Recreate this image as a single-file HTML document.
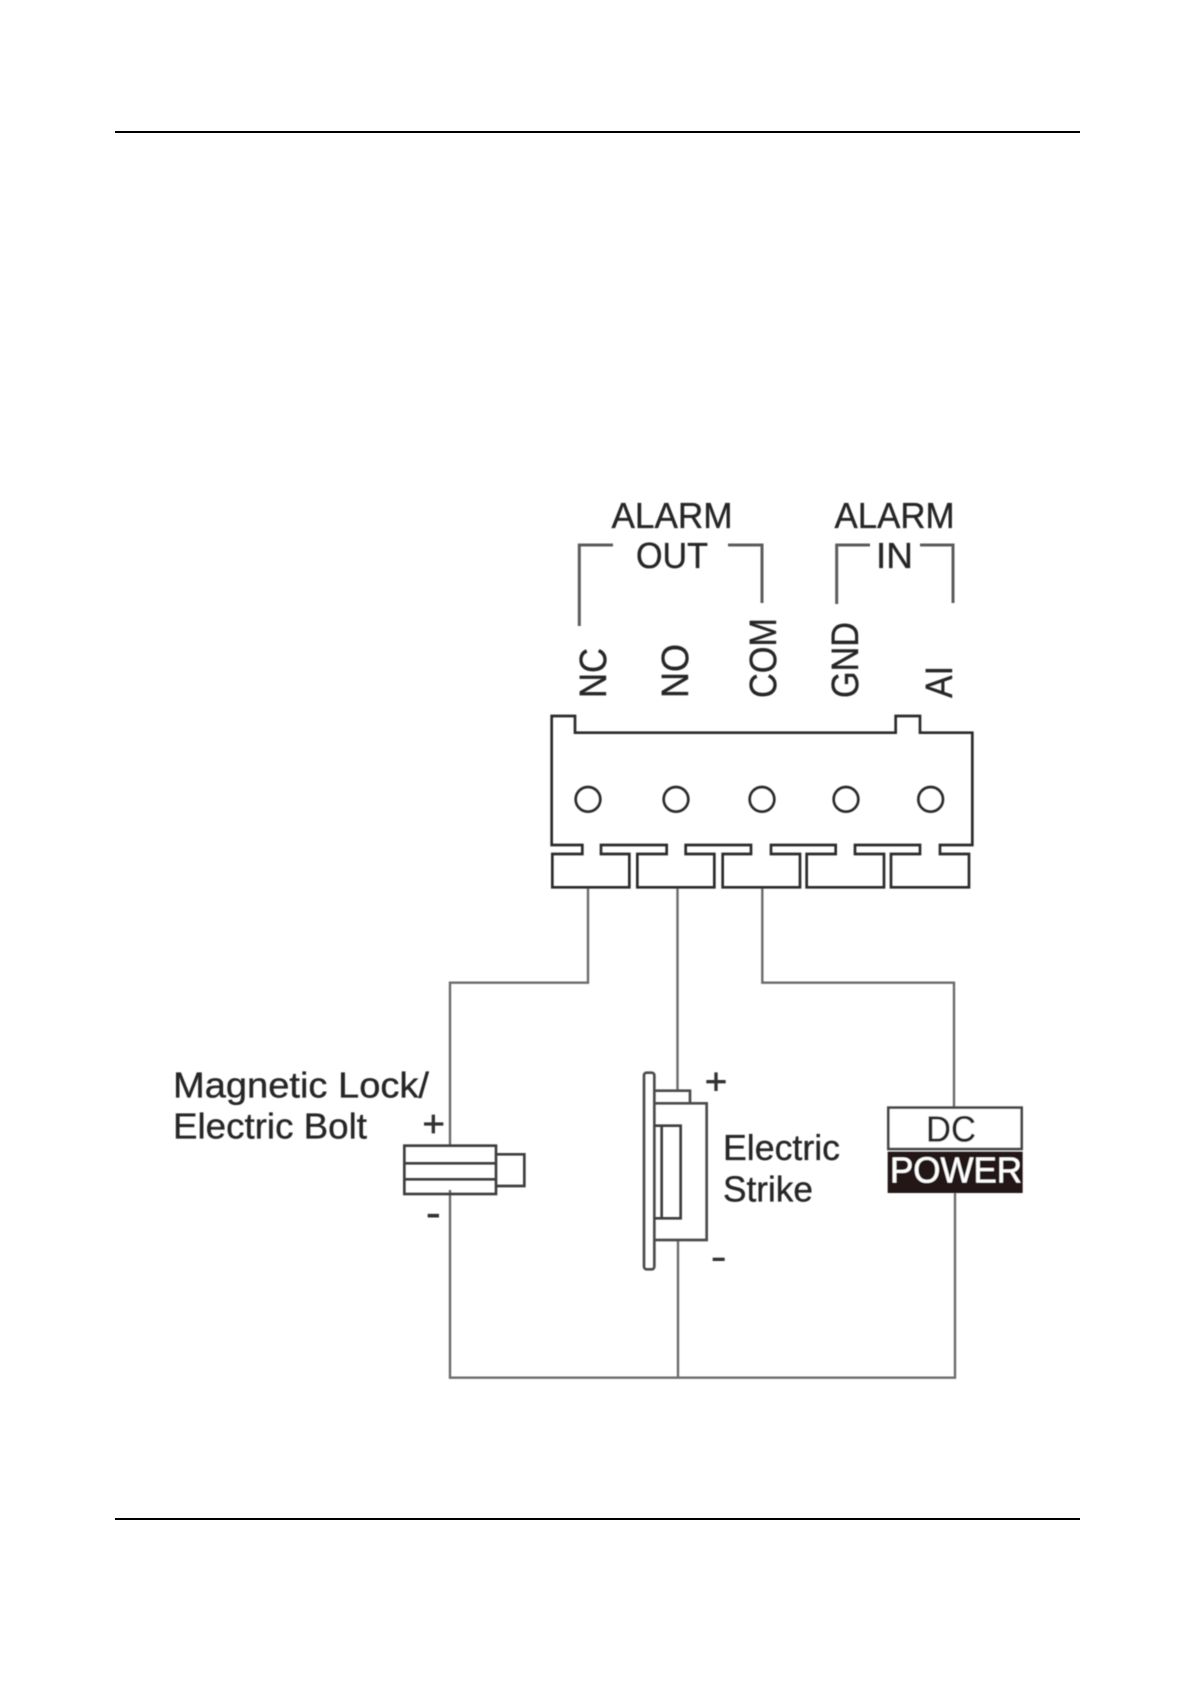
<!DOCTYPE html>
<html>
<head>
<meta charset="utf-8">
<style>
html,body{margin:0;padding:0;background:#fff;}
svg{display:block;}
text{font-family:"Liberation Sans",sans-serif;font-size:36px;fill:#262626;stroke:#262626;stroke-width:.35px;}
</style>
</head>
<body>
<svg width="1181" height="1685" viewBox="0 0 1181 1685" xmlns="http://www.w3.org/2000/svg">
<defs><filter id="b" x="-2%" y="-2%" width="104%" height="104%"><feGaussianBlur stdDeviation="0.45"/></filter></defs>
<rect width="1181" height="1685" fill="#fff"/>
<!-- page rules -->
<rect x="115" y="131" width="965" height="2" fill="#000"/>
<rect x="115" y="1518" width="965" height="2" fill="#000"/>

<g filter="url(#b)">
<!-- wires -->
<g fill="none" stroke="#6c6c6c" stroke-width="2.4">
<path d="M588 887V982.7H450V1145.5M450 1190V1377.7H955V1193M954 1107V982.7H762.3V887"/>
<path d="M677.5 887V1090.5M678 1240V1377.7"/>
</g>

<!-- brackets -->
<g fill="none" stroke="#5c5c5c" stroke-width="3">
<path d="M579.3 626V545H613"/>
<path d="M728 545H762V603"/>
<path d="M836.7 604V545H870"/>
<path d="M920 545H953V603"/>
</g>

<!-- connector -->
<g transform="translate(520,700) scale(.33333)" fill="none" stroke="#2a2a2a" stroke-width="8">
<path d="M165 48H95V435H187V462H97V562H328V462H243V435H440V462H352V562H583V462H497V435H693V462H608V562H840V462H753V435H947V462H860V562H1092V462H1005V435H1200V462H1113V562H1347V462H1260V435H1357V98H1200V48H1127V98H165Z"/>
<circle cx="204" cy="298" r="37"/>
<circle cx="468" cy="298" r="37"/>
<circle cx="726" cy="298" r="37"/>
<circle cx="978" cy="298" r="37"/>
<circle cx="1232" cy="298" r="37"/>
</g>

<!-- magnetic lock -->
<g transform="translate(160,1040) scale(.33333)" fill="none" stroke="#3c3c3c" stroke-width="8">
<rect x="733" y="317" width="275" height="145"/>
<path d="M733 370H1008M733 418H1008"/>
<path d="M1008 343H1093V438H1008"/>
<path d="M792 252H850M820 224V280" stroke="#333" stroke-width="10"/>
<path d="M803 527H837" stroke="#333" stroke-width="11"/>
</g>

<!-- electric strike -->
<g transform="translate(620,1040) scale(.33333)" fill="none" stroke="#4c4c4c" stroke-width="8">
<rect x="72" y="98" width="31" height="590" rx="8"/>
<path d="M103 152H210V190"/>
<path d="M103 190H260V600H103"/>
<path d="M103 257H182V535H103M125 257V535" stroke="#3c3c3c"/>
<path d="M259 125H317M288 97V153" stroke="#333" stroke-width="10"/>
<path d="M278 658H314" stroke="#333" stroke-width="10"/>
</g>

<!-- DC power -->
<g transform="translate(620,1040) scale(.33333)">
<rect x="805" y="203" width="400" height="124" fill="#fff" stroke="#444" stroke-width="8"/>
<rect x="803" y="335" width="405" height="124" fill="#231815"/>
</g>

<!-- labels -->
<text x="611.5" y="528" textLength="121" lengthAdjust="spacingAndGlyphs">ALARM</text>
<text x="636" y="568" textLength="72" lengthAdjust="spacingAndGlyphs">OUT</text>
<text x="834.5" y="528" textLength="120" lengthAdjust="spacingAndGlyphs">ALARM</text>
<text x="876" y="568" textLength="37" lengthAdjust="spacingAndGlyphs">IN</text>

<text transform="translate(606,698) rotate(-90)" textLength="50" lengthAdjust="spacingAndGlyphs" style="font-size:38px">NC</text>
<text transform="translate(688,698) rotate(-90)" textLength="54" lengthAdjust="spacingAndGlyphs" style="font-size:38px">NO</text>
<text transform="translate(776,698) rotate(-90)" textLength="80" lengthAdjust="spacingAndGlyphs" style="font-size:38px">COM</text>
<text transform="translate(858,698) rotate(-90)" textLength="76" lengthAdjust="spacingAndGlyphs" style="font-size:38px">GND</text>
<text transform="translate(952,698) rotate(-90)" textLength="32" lengthAdjust="spacingAndGlyphs" style="font-size:38px">AI</text>

<text x="173" y="1097.3" textLength="256" lengthAdjust="spacingAndGlyphs">Magnetic Lock/</text>
<text x="173" y="1138.3" textLength="194" lengthAdjust="spacingAndGlyphs">Electric Bolt</text>
<text x="723" y="1160" textLength="117" lengthAdjust="spacingAndGlyphs">Electric</text>
<text x="723" y="1201.7" textLength="90" lengthAdjust="spacingAndGlyphs">Strike</text>
<text x="926" y="1141.7" textLength="50" lengthAdjust="spacingAndGlyphs">DC</text>
<text x="890" y="1182.7" textLength="132" lengthAdjust="spacingAndGlyphs" style="fill:#fff;stroke:#fff">POWER</text>
</g>
</svg>
</body>
</html>
